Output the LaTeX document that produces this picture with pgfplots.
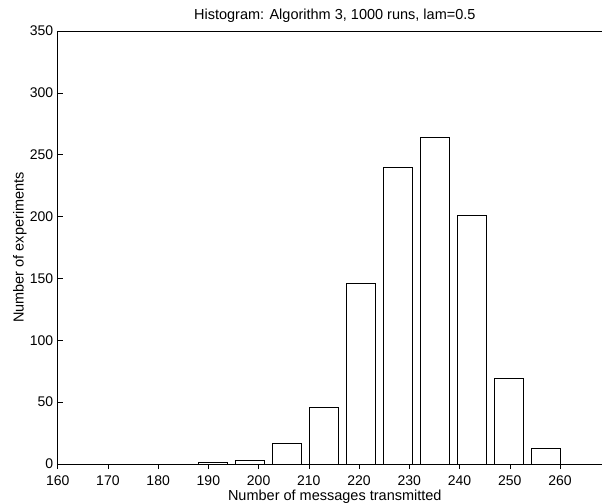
\documentclass[border=0pt]{standalone}
\usepackage{pgfplots}
\pgfplotsset{compat=1.18}
\usepackage{fontspec}
\setmainfont{Liberation Sans}
\begin{document}
\begin{tikzpicture}
\useasboundingbox (-57.7bp,-40bp) rectangle (544.3bp,464bp);
\begin{axis}[
  at={(0,0)}, anchor=south west,
  scale only axis, width=552bp, height=433bp,
  xmin=160, xmax=269.9, ymin=0, ymax=350,
  axis x line*=bottom, axis y line*=left,
  axis line style={line width=0.6bp},
  tick align=inside, major tick length=5bp,
  tick style={line width=0.5bp, black},
  xtick={160,170,...,260}, ytick={0,50,...,350},
  /pgf/number format/assume math mode=true,
  font=\fontsize{14.5bp}{17bp}\selectfont,
  ticklabel style={font=\fontsize{14bp}{16bp}\selectfont},
  xticklabel style={inner sep=0.5bp, yshift=-6bp},
  yticklabel style={xshift=-1bp},
  title={Histogram: Algorithm 3, 1000 runs, lam=0.5},
  title style={at={(axis description cs:0.502,1)}, yshift=0pt, anchor=base},
  every axis title shift=11bp,
  xlabel={Number of messages transmitted},
  xlabel style={at={([yshift=-36bp]axis description cs:0.502,0)}, anchor=base, inner sep=1bp},
  ylabel={Number of experiments},
  ylabel style={at={([xshift=-34bp]axis description cs:0,0.5)}, anchor=base},
  ybar, bar width=5.9, bar shift=0pt,
  clip=false,
]
\addplot[draw=black, fill=white, line width=0.6bp] coordinates {
(190.85,1) (198.22,3) (205.59,17) (212.96,46) (220.33,146)
(227.70,240) (235.07,264) (242.44,201) (249.81,69) (257.18,13)
};
\draw[line width=0.6bp] (rel axis cs:0,1) -- (rel axis cs:1,1);
\end{axis}
\end{tikzpicture}
\end{document}
